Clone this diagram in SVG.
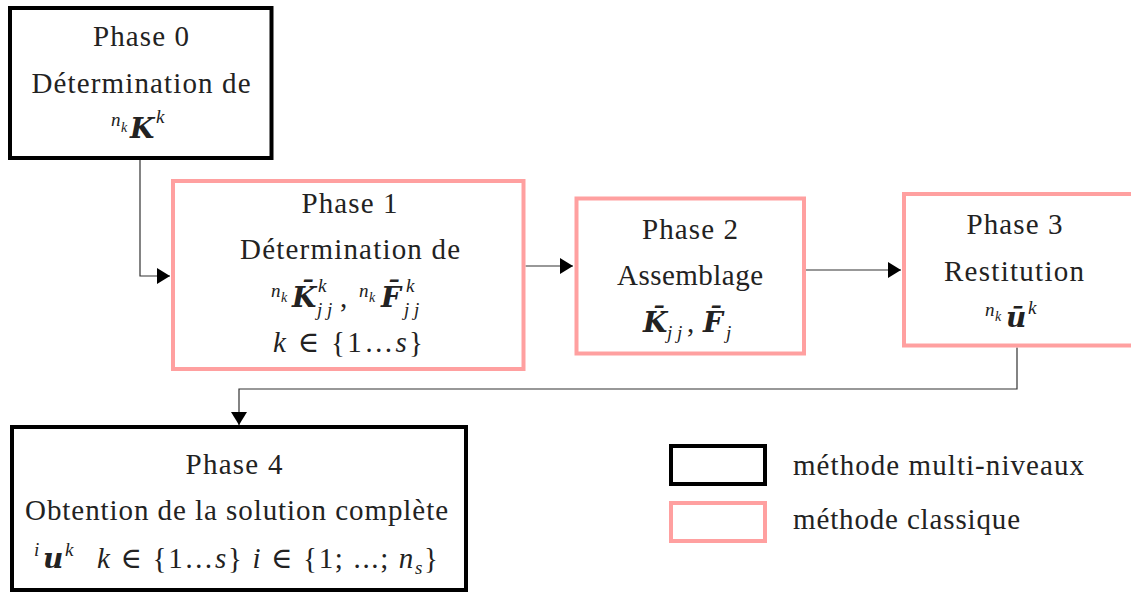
<svg xmlns="http://www.w3.org/2000/svg" width="1131" height="594" viewBox="0 0 1131 594">
<style>
text{font-family:"Liberation Serif","DejaVu Serif",serif;font-size:29px;fill:#222;}
.c{text-anchor:middle;}
.i{font-style:italic;}
.bi{font-family:"DejaVu Serif",serif;font-style:italic;font-weight:bold;font-size:28px;}
.sup{font-size:19px;}
.ss{font-size:14px;}
.multi{fill:#fff;stroke:#000;stroke-width:4;}
.classic{fill:#fff;stroke:#ffa0a0;stroke-width:4;}
.conn{fill:none;stroke:#333;stroke-width:1.2;}
</style>
<defs>
<marker id="arr" viewBox="0 0 13 16" refX="13" refY="8" markerWidth="13" markerHeight="16" orient="auto" markerUnits="userSpaceOnUse">
<path d="M0,0 L13,8 L0,16 z" fill="#000"/>
</marker>
</defs>
<rect width="1131" height="594" fill="#fff"/>

<g id="connectors">
<path class="conn" d="M140,160 V276 H170" marker-end="url(#arr)"/>
<path class="conn" d="M525.5,266 H573" marker-end="url(#arr)"/>
<path class="conn" d="M806,270 H901" marker-end="url(#arr)"/>
<path class="conn" d="M1017,347.5 V389 H239 V425" marker-end="url(#arr)"/>
</g>

<g id="phase0">
<rect class="multi" x="10" y="8" width="261.5" height="150"/>
<text class="c" x="141" y="46" textLength="96">Phase 0</text>
<text class="c" x="141" y="92.5" textLength="219">Détermination de</text>
<text><tspan class="i sup" x="111" y="125.5">n</tspan><tspan class="i ss" x="121" y="132">k</tspan><tspan class="bi" x="130" y="138">K</tspan><tspan class="i sup" x="156" y="123">k</tspan></text>
</g>

<g id="phase1">
<rect class="classic" x="173" y="181" width="350.5" height="188"/>
<text class="c" x="349.5" y="212.5" textLength="96">Phase 1</text>
<text class="c" x="350" y="259" textLength="220">Détermination de</text>
<text><tspan class="i sup" x="271" y="297">n</tspan><tspan class="i ss" x="281" y="302">k</tspan><tspan class="bi" x="292" y="306.5">K̄</tspan><tspan class="i sup" x="318" y="292">k</tspan><tspan class="i sup" x="317 327" y="316">jj</tspan><tspan x="340" y="306.5">,</tspan><tspan class="i sup" x="359" y="297">n</tspan><tspan class="i ss" x="369" y="302">k</tspan><tspan class="bi" x="381" y="306.5">F̄</tspan><tspan class="i sup" x="406" y="292">k</tspan><tspan class="i sup" x="404 414" y="316">jj</tspan></text>
<text class="c" x="348" y="352" textLength="150"><tspan class="i">k</tspan> ∈ {1…<tspan class="i">s</tspan>}</text>
</g>

<g id="phase2">
<rect class="classic" x="576.5" y="198.5" width="227.5" height="155"/>
<text class="c" x="690" y="239" textLength="96">Phase 2</text>
<text class="c" x="690" y="285" textLength="146">Assemblage</text>
<text><tspan class="bi" x="643" y="332">K̄</tspan><tspan class="i sup" x="667 677" y="339">jj</tspan><tspan x="687" y="332">,</tspan><tspan class="bi" x="703" y="332">F̄</tspan><tspan class="i sup" x="726" y="339">j</tspan></text>
</g>

<g id="phase3">
<rect class="classic" x="904" y="194" width="240" height="151.5"/>
<text class="c" x="1014.5" y="234" textLength="96">Phase 3</text>
<text class="c" x="1014" y="281" textLength="140">Restitution</text>
<text><tspan class="i sup" x="985" y="316">n</tspan><tspan class="i ss" x="995" y="321">k</tspan><tspan class="bi" x="1006" y="327">ū</tspan><tspan class="i sup" x="1028" y="314">k</tspan></text>
</g>

<g id="phase4">
<rect class="multi" x="12" y="427" width="454" height="163"/>
<text class="c" x="234" y="473.5" textLength="97">Phase 4</text>
<text class="c" x="236.5" y="519.5" textLength="423">Obtention de la solution complète</text>
<text class="c" x="236" y="567.5" textLength="404"><tspan class="i sup" dy="-12">i</tspan><tspan class="bi" dx="2" dy="12">u</tspan><tspan class="i sup" dy="-12">k</tspan><tspan dx="22" dy="12" class="i">k</tspan> ∈ {1…<tspan class="i">s</tspan>} <tspan class="i">i</tspan> ∈ {1; ...; <tspan class="i">n</tspan><tspan class="i sup" dy="6">s</tspan><tspan dy="-6">}</tspan></text>
</g>

<g id="legend">
<rect class="multi" x="671" y="446" width="94" height="38"/>
<rect class="classic" x="671" y="503" width="94" height="38"/>
<text x="793" y="475" textLength="291">méthode multi-niveaux</text>
<text x="793" y="529" textLength="227">méthode classique</text>
</g>
</svg>
